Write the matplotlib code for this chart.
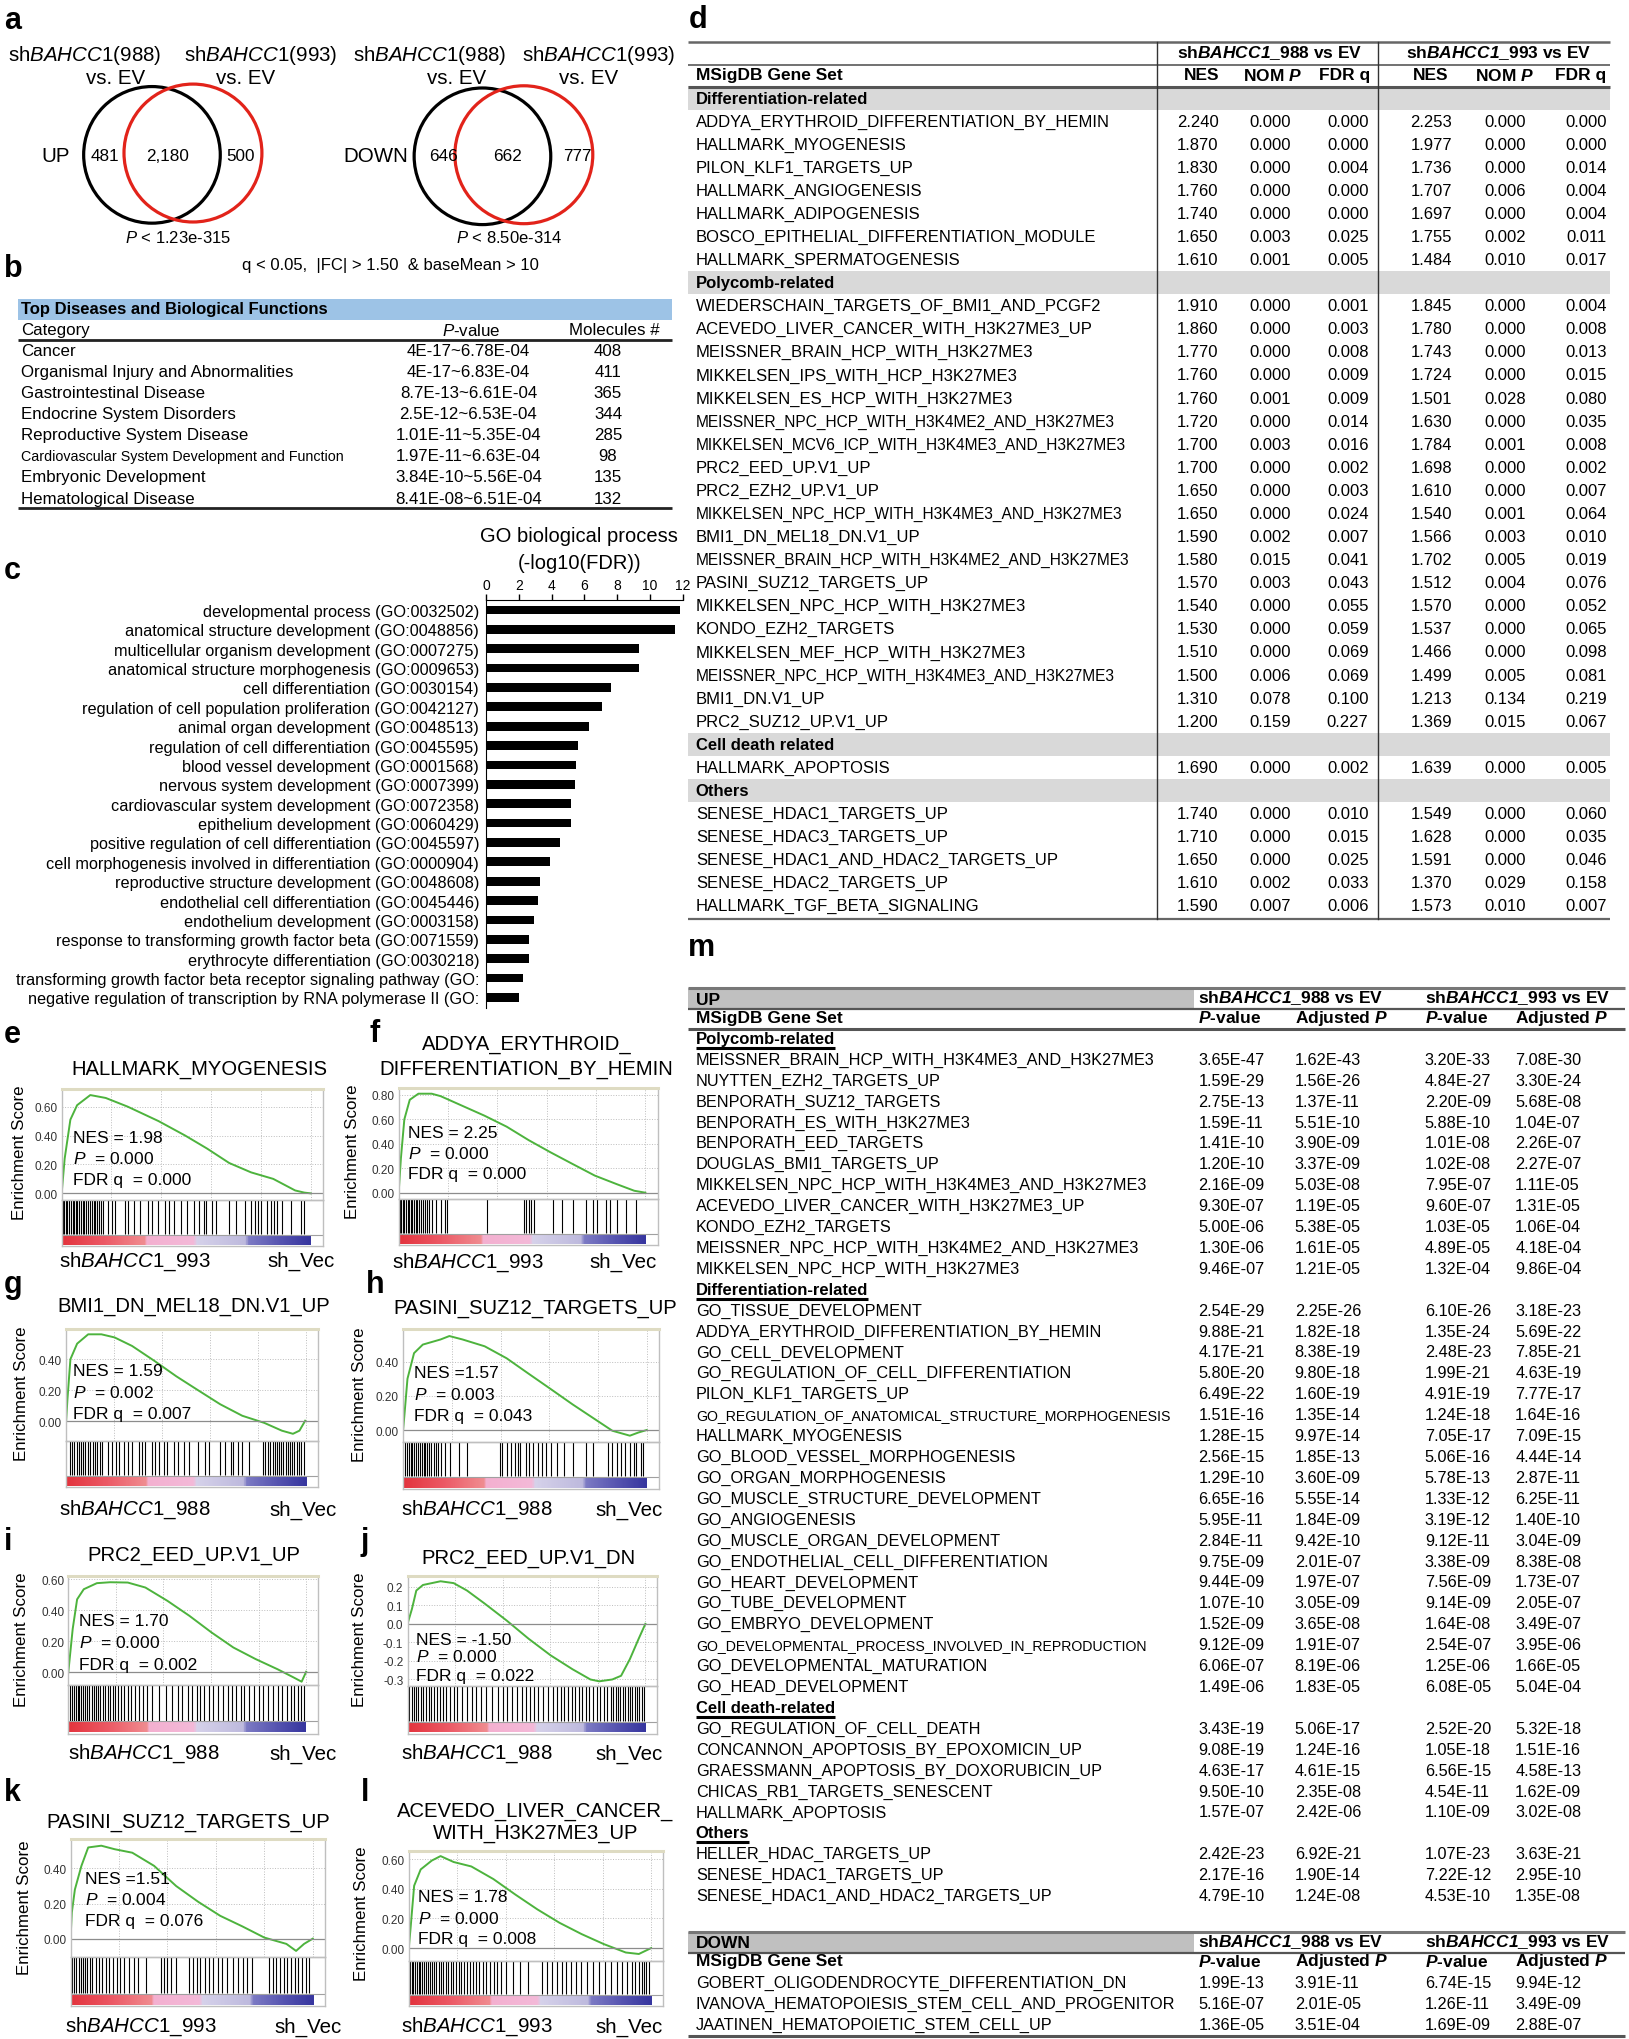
import numpy as np
import matplotlib
matplotlib.use('Agg')
import matplotlib.pyplot as plt
from matplotlib.patches import Circle, Rectangle
from matplotlib.colors import LinearSegmentedColormap

plt.rcParams['font.family'] = ['Liberation Sans', 'DejaVu Sans']
plt.rcParams['mathtext.fontset'] = 'custom'
plt.rcParams['mathtext.rm'] = 'Liberation Sans'
plt.rcParams['mathtext.it'] = 'Liberation Sans:italic'
plt.rcParams['mathtext.bf'] = 'Liberation Sans:bold'
if 'mathtext.bfit' in plt.rcParams:
    plt.rcParams['mathtext.bfit'] = 'Liberation Sans:bold:italic'
    BFIT = r'\mathbfit'
else:
    BFIT = r'\mathbf'

# ---------------- data ----------------
# a: venn counts (only 988, overlap, only 993)
venn_up = [481, 2180, 500]
venn_down = [646, 662, 777]
venn_p = ['1.23e-315', '8.50e-314']

# b: IPA table
ipa_cat = ['Cancer', 'Organismal Injury and Abnormalities', 'Gastrointestinal Disease',
           'Endocrine System Disorders', 'Reproductive System Disease',
           'Cardiovascular System Development and Function', 'Embryonic Development',
           'Hematological Disease']
ipa_p = ['4E-17~6.78E-04', '4E-17~6.83E-04', '8.7E-13~6.61E-04', '2.5E-12~6.53E-04',
         '1.01E-11~5.35E-04', '1.97E-11~6.63E-04', '3.84E-10~5.56E-04', '8.41E-08~6.51E-04']
ipa_mol = [408, 411, 365, 344, 285, 98, 135, 132]

# c: GO biological process
go_terms = ['developmental process (GO:0032502)', 'anatomical structure development (GO:0048856)',
            'multicellular organism development (GO:0007275)', 'anatomical structure morphogenesis (GO:0009653)',
            'cell differentiation (GO:0030154)', 'regulation of cell population proliferation (GO:0042127)',
            'animal organ development (GO:0048513)', 'regulation of cell differentiation (GO:0045595)',
            'blood vessel development (GO:0001568)', 'nervous system development (GO:0007399)',
            'cardiovascular system development (GO:0072358)', 'epithelium development (GO:0060429)',
            'positive regulation of cell differentiation (GO:0045597)',
            'cell morphogenesis involved in differentiation (GO:0000904)',
            'reproductive structure development (GO:0048608)', 'endothelial cell differentiation (GO:0045446)',
            'endothelium development (GO:0003158)', 'response to transforming growth factor beta (GO:0071559)',
            'erythrocyte differentiation (GO:0030218)',
            'transforming growth factor beta receptor signaling pathway (GO:',
            'negative regulation of transcription by RNA polymerase II (GO:']
go_values = [11.8, 11.5, 9.3, 9.3, 7.65, 7.1, 6.3, 5.6, 5.5, 5.4, 5.2, 5.2, 4.5, 3.9,
             3.3, 3.15, 2.9, 2.65, 2.6, 2.25, 2.0]

# d: GSEA summary (NES, NOM P, FDR q for 988 then 993)
d_groups = ['Differentiation-related', 'Polycomb-related', 'Cell death related', 'Others']
d_diff_sets = ['ADDYA_ERYTHROID_DIFFERENTIATION_BY_HEMIN', 'HALLMARK_MYOGENESIS', 'PILON_KLF1_TARGETS_UP',
               'HALLMARK_ANGIOGENESIS', 'HALLMARK_ADIPOGENESIS', 'BOSCO_EPITHELIAL_DIFFERENTIATION_MODULE',
               'HALLMARK_SPERMATOGENESIS']
d_diff_vals = [[2.240, 0.000, 0.000, 2.253, 0.000, 0.000], [1.870, 0.000, 0.000, 1.977, 0.000, 0.000],
               [1.830, 0.000, 0.004, 1.736, 0.000, 0.014], [1.760, 0.000, 0.000, 1.707, 0.006, 0.004],
               [1.740, 0.000, 0.000, 1.697, 0.000, 0.004], [1.650, 0.003, 0.025, 1.755, 0.002, 0.011],
               [1.610, 0.001, 0.005, 1.484, 0.010, 0.017]]
d_pc_sets = ['WIEDERSCHAIN_TARGETS_OF_BMI1_AND_PCGF2', 'ACEVEDO_LIVER_CANCER_WITH_H3K27ME3_UP',
             'MEISSNER_BRAIN_HCP_WITH_H3K27ME3', 'MIKKELSEN_IPS_WITH_HCP_H3K27ME3',
             'MIKKELSEN_ES_HCP_WITH_H3K27ME3', 'MEISSNER_NPC_HCP_WITH_H3K4ME2_AND_H3K27ME3',
             'MIKKELSEN_MCV6_ICP_WITH_H3K4ME3_AND_H3K27ME3', 'PRC2_EED_UP.V1_UP', 'PRC2_EZH2_UP.V1_UP',
             'MIKKELSEN_NPC_HCP_WITH_H3K4ME3_AND_H3K27ME3', 'BMI1_DN_MEL18_DN.V1_UP',
             'MEISSNER_BRAIN_HCP_WITH_H3K4ME2_AND_H3K27ME3', 'PASINI_SUZ12_TARGETS_UP',
             'MIKKELSEN_NPC_HCP_WITH_H3K27ME3', 'KONDO_EZH2_TARGETS', 'MIKKELSEN_MEF_HCP_WITH_H3K27ME3',
             'MEISSNER_NPC_HCP_WITH_H3K4ME3_AND_H3K27ME3', 'BMI1_DN.V1_UP', 'PRC2_SUZ12_UP.V1_UP']
d_pc_vals = [[1.910, 0.000, 0.001, 1.845, 0.000, 0.004], [1.860, 0.000, 0.003, 1.780, 0.000, 0.008],
             [1.770, 0.000, 0.008, 1.743, 0.000, 0.013], [1.760, 0.000, 0.009, 1.724, 0.000, 0.015],
             [1.760, 0.001, 0.009, 1.501, 0.028, 0.080], [1.720, 0.000, 0.014, 1.630, 0.000, 0.035],
             [1.700, 0.003, 0.016, 1.784, 0.001, 0.008], [1.700, 0.000, 0.002, 1.698, 0.000, 0.002],
             [1.650, 0.000, 0.003, 1.610, 0.000, 0.007], [1.650, 0.000, 0.024, 1.540, 0.001, 0.064],
             [1.590, 0.002, 0.007, 1.566, 0.003, 0.010], [1.580, 0.015, 0.041, 1.702, 0.005, 0.019],
             [1.570, 0.003, 0.043, 1.512, 0.004, 0.076], [1.540, 0.000, 0.055, 1.570, 0.000, 0.052],
             [1.530, 0.000, 0.059, 1.537, 0.000, 0.065], [1.510, 0.000, 0.069, 1.466, 0.000, 0.098],
             [1.500, 0.006, 0.069, 1.499, 0.005, 0.081], [1.310, 0.078, 0.100, 1.213, 0.134, 0.219],
             [1.200, 0.159, 0.227, 1.369, 0.015, 0.067]]
d_death_sets = ['HALLMARK_APOPTOSIS']
d_death_vals = [[1.690, 0.000, 0.002, 1.639, 0.000, 0.005]]
d_other_sets = ['SENESE_HDAC1_TARGETS_UP', 'SENESE_HDAC3_TARGETS_UP', 'SENESE_HDAC1_AND_HDAC2_TARGETS_UP',
                'SENESE_HDAC2_TARGETS_UP', 'HALLMARK_TGF_BETA_SIGNALING']
d_other_vals = [[1.740, 0.000, 0.010, 1.549, 0.000, 0.060], [1.710, 0.000, 0.015, 1.628, 0.000, 0.035],
                [1.650, 0.000, 0.025, 1.591, 0.000, 0.046], [1.610, 0.002, 0.033, 1.370, 0.029, 0.158],
                [1.590, 0.007, 0.006, 1.573, 0.010, 0.007]]

# m: enrichment P-values (988 P, adj P, 993 P, adj P)
m_groups = ['Polycomb-related', 'Differentiation-related', 'Cell death-related', 'Others']
m_pc_sets = ['MEISSNER_BRAIN_HCP_WITH_H3K4ME3_AND_H3K27ME3', 'NUYTTEN_EZH2_TARGETS_UP',
             'BENPORATH_SUZ12_TARGETS', 'BENPORATH_ES_WITH_H3K27ME3', 'BENPORATH_EED_TARGETS',
             'DOUGLAS_BMI1_TARGETS_UP', 'MIKKELSEN_NPC_HCP_WITH_H3K4ME3_AND_H3K27ME3',
             'ACEVEDO_LIVER_CANCER_WITH_H3K27ME3_UP', 'KONDO_EZH2_TARGETS',
             'MEISSNER_NPC_HCP_WITH_H3K4ME2_AND_H3K27ME3', 'MIKKELSEN_NPC_HCP_WITH_H3K27ME3']
m_pc_vals = [['3.65E-47', '1.62E-43', '3.20E-33', '7.08E-30'], ['1.59E-29', '1.56E-26', '4.84E-27', '3.30E-24'],
             ['2.75E-13', '1.37E-11', '2.20E-09', '5.68E-08'], ['1.59E-11', '5.51E-10', '5.88E-10', '1.04E-07'],
             ['1.41E-10', '3.90E-09', '1.01E-08', '2.26E-07'], ['1.20E-10', '3.37E-09', '1.02E-08', '2.27E-07'],
             ['2.16E-09', '5.03E-08', '7.95E-07', '1.11E-05'], ['9.30E-07', '1.19E-05', '9.60E-07', '1.31E-05'],
             ['5.00E-06', '5.38E-05', '1.03E-05', '1.06E-04'], ['1.30E-06', '1.61E-05', '4.89E-05', '4.18E-04'],
             ['9.46E-07', '1.21E-05', '1.32E-04', '9.86E-04']]
m_diff_sets = ['GO_TISSUE_DEVELOPMENT', 'ADDYA_ERYTHROID_DIFFERENTIATION_BY_HEMIN', 'GO_CELL_DEVELOPMENT',
               'GO_REGULATION_OF_CELL_DIFFERENTIATION', 'PILON_KLF1_TARGETS_UP',
               'GO_REGULATION_OF_ANATOMICAL_STRUCTURE_MORPHOGENESIS', 'HALLMARK_MYOGENESIS',
               'GO_BLOOD_VESSEL_MORPHOGENESIS', 'GO_ORGAN_MORPHOGENESIS', 'GO_MUSCLE_STRUCTURE_DEVELOPMENT',
               'GO_ANGIOGENESIS', 'GO_MUSCLE_ORGAN_DEVELOPMENT', 'GO_ENDOTHELIAL_CELL_DIFFERENTIATION',
               'GO_HEART_DEVELOPMENT', 'GO_TUBE_DEVELOPMENT', 'GO_EMBRYO_DEVELOPMENT',
               'GO_DEVELOPMENTAL_PROCESS_INVOLVED_IN_REPRODUCTION', 'GO_DEVELOPMENTAL_MATURATION',
               'GO_HEAD_DEVELOPMENT']
m_diff_vals = [['2.54E-29', '2.25E-26', '6.10E-26', '3.18E-23'], ['9.88E-21', '1.82E-18', '1.35E-24', '5.69E-22'],
               ['4.17E-21', '8.38E-19', '2.48E-23', '7.85E-21'], ['5.80E-20', '9.80E-18', '1.99E-21', '4.63E-19'],
               ['6.49E-22', '1.60E-19', '4.91E-19', '7.77E-17'], ['1.51E-16', '1.35E-14', '1.24E-18', '1.64E-16'],
               ['1.28E-15', '9.97E-14', '7.05E-17', '7.09E-15'], ['2.56E-15', '1.85E-13', '5.06E-16', '4.44E-14'],
               ['1.29E-10', '3.60E-09', '5.78E-13', '2.87E-11'], ['6.65E-16', '5.55E-14', '1.33E-12', '6.25E-11'],
               ['5.95E-11', '1.84E-09', '3.19E-12', '1.40E-10'], ['2.84E-11', '9.42E-10', '9.12E-11', '3.04E-09'],
               ['9.75E-09', '2.01E-07', '3.38E-09', '8.38E-08'], ['9.44E-09', '1.97E-07', '7.56E-09', '1.73E-07'],
               ['1.07E-10', '3.05E-09', '9.14E-09', '2.05E-07'], ['1.52E-09', '3.65E-08', '1.64E-08', '3.49E-07'],
               ['9.12E-09', '1.91E-07', '2.54E-07', '3.95E-06'], ['6.06E-07', '8.19E-06', '1.25E-06', '1.66E-05'],
               ['1.49E-06', '1.83E-05', '6.08E-05', '5.04E-04']]
m_death_sets = ['GO_REGULATION_OF_CELL_DEATH', 'CONCANNON_APOPTOSIS_BY_EPOXOMICIN_UP',
                'GRAESSMANN_APOPTOSIS_BY_DOXORUBICIN_UP', 'CHICAS_RB1_TARGETS_SENESCENT', 'HALLMARK_APOPTOSIS']
m_death_vals = [['3.43E-19', '5.06E-17', '2.52E-20', '5.32E-18'], ['9.08E-19', '1.24E-16', '1.05E-18', '1.51E-16'],
                ['4.63E-17', '4.61E-15', '6.56E-15', '4.58E-13'], ['9.50E-10', '2.35E-08', '4.54E-11', '1.62E-09'],
                ['1.57E-07', '2.42E-06', '1.10E-09', '3.02E-08']]
m_other_sets = ['HELLER_HDAC_TARGETS_UP', 'SENESE_HDAC1_TARGETS_UP', 'SENESE_HDAC1_AND_HDAC2_TARGETS_UP']
m_other_vals = [['2.42E-23', '6.92E-21', '1.07E-23', '3.63E-21'], ['2.17E-16', '1.90E-14', '7.22E-12', '2.95E-10'],
                ['4.79E-10', '1.24E-08', '4.53E-10', '1.35E-08']]
m_down_sets = ['GOBERT_OLIGODENDROCYTE_DIFFERENTIATION_DN', 'IVANOVA_HEMATOPOIESIS_STEM_CELL_AND_PROGENITOR',
               'JAATINEN_HEMATOPOIETIC_STEM_CELL_UP']
m_down_vals = [['1.99E-13', '3.91E-11', '6.74E-15', '9.94E-12'], ['5.16E-07', '2.01E-05', '1.26E-11', '3.49E-09'],
               ['1.36E-05', '3.51E-04', '1.69E-09', '2.88E-07']]

# e-l: GSEA running enrichment score (rank in % of list) and hit positions
gsea_titles = [['HALLMARK_MYOGENESIS'], ['ADDYA_ERYTHROID_', 'DIFFERENTIATION_BY_HEMIN'],
               ['BMI1_DN_MEL18_DN.V1_UP'], ['PASINI_SUZ12_TARGETS_UP'], ['PRC2_EED_UP.V1_UP'],
               ['PRC2_EED_UP.V1_DN'], ['PASINI_SUZ12_TARGETS_UP'], ['ACEVEDO_LIVER_CANCER_', 'WITH_H3K27ME3_UP']]
gsea_nes = ['= 1.98', '= 2.25', '= 1.59', '=1.57', '= 1.70', '= -1.50', '=1.51', '= 1.78']
gsea_p = ['0.000', '0.000', '0.002', '0.003', '0.000', '0.000', '0.004', '0.000']
gsea_fdr = ['0.000', '0.000', '0.007', '0.043', '0.002', '0.022', '0.076', '0.008']
gsea_shrna = ['993', '993', '988', '988', '988', '988', '993', '993']

e_rank = [0, 1.2, 3.5, 6.2, 11.5, 17.7, 26.5, 38.9, 49.6, 58.4, 67.3, 76.1, 85.0, 93.8, 97.5, 100]
e_es = [0, 0.24, 0.51, 0.61, 0.68, 0.66, 0.60, 0.50, 0.40, 0.31, 0.21, 0.145, 0.10, 0.02, 0.005, 0.0]
e_hits = [0.5, 1, 1.6, 2.2, 3, 3.6, 4.4, 5, 5.6, 6.3, 7, 7.7, 8.4, 9, 9.8, 10.5, 11.3, 12, 12.8, 13.5,
          14.3, 15, 15.8, 16.5, 18.6, 20.4, 21.6, 25.3, 26.5, 29.2, 31.5, 34.5, 36.3, 38.9, 41.6, 43, 45.1,
          47.8, 50.4, 53.1, 55.2, 57, 58, 60.2, 61.9, 67.3, 69.9, 73.5, 76.1, 77.5, 78.8, 80, 82.3, 84.1,
          85.3, 86.4, 88.5, 92, 96, 97.3]
f_rank = [0, 0.9, 2.3, 4.5, 8, 13.4, 17, 25.9, 34.8, 43.8, 52.7, 61.6, 70.5, 79.5, 88.4, 95.5, 100]
f_es = [0, 0.28, 0.60, 0.76, 0.81, 0.81, 0.79, 0.71, 0.63, 0.54, 0.43, 0.33, 0.235, 0.14, 0.07, 0.016, 0]
f_hits = [0.5, 1.1, 1.7, 2.3, 2.9, 3.6, 4.2, 4.8, 5.5, 6.2, 6.9, 7.6, 8.3, 9, 9.8, 10.5, 11.5, 12.5,
          13.5, 15.2, 17, 18.8, 19.6, 35.7, 50.9, 51.8, 52.7, 53.6, 54.8, 62.5, 66.1, 70.5, 75.9, 78.6,
          80.4, 83.9, 85.7, 88.4, 92, 96.4]
g_rank = [0, 0.55, 1.8, 4.6, 9.2, 14.7, 20.2, 27.5, 36.7, 45.9, 55.0, 64.2, 73.4, 82.6, 89.9, 94.5, 97.2, 99.6]
g_es = [0, 0.14, 0.40, 0.50, 0.56, 0.56, 0.54, 0.485, 0.39, 0.29, 0.20, 0.11, 0.036, -0.01, -0.06, -0.08,
        -0.06, 0.004]
g_hits = [1.8, 2.6, 3.5, 4.4, 5.3, 6.2, 7.1, 8, 9, 10, 11, 12, 13, 14, 15, 17.4, 19.3, 20.6, 22, 24.2,
          25.7, 27.5, 30.3, 31.6, 33, 35.8, 37.1, 38.5, 40.7, 42.2, 44.9, 46.8, 49.2, 51.4, 55, 57.8, 59.6,
          64.2, 66.4, 68.8, 69.7, 71.6, 73.4, 76.1, 82.2, 83, 84, 85, 86, 87, 88, 88.8, 89.7, 90.5, 91.4,
          92.3, 93.2, 94, 95, 96, 97, 98, 98.9]
h_rank = [0, 0.5, 1.8, 4.5, 8.1, 15.4, 19, 24.4, 33.5, 42.5, 51.5, 60.6, 69.6, 78.7, 85.9, 93.1, 96.7, 100]
h_es = [0, 0.08, 0.30, 0.45, 0.50, 0.53, 0.55, 0.53, 0.49, 0.42, 0.33, 0.24, 0.15, 0.064, -0.004, -0.033,
        -0.014, 0]
h_hits = [0.9, 1.6, 2.4, 3.1, 3.8, 4.6, 5.4, 6.1, 6.9, 7.6, 8.4, 9.2, 10, 10.8, 11.6, 12.5, 13.4, 14.5,
          15.6, 17.4, 19.3, 22.8, 26.4, 39.8, 40.7, 42.5, 44.3, 45.8, 47, 47.9, 50.6, 51.5, 53.3, 55.2, 57,
          58.8, 60.6, 63.3, 66, 69.6, 75, 77.8, 84.1, 85.9, 87.7, 89.5, 91.3, 93.1, 95, 95.8, 97.6, 98.5]
i_rank = [0, 0.56, 1.85, 3.7, 6.5, 12, 17.6, 25, 32.4, 41.7, 50.9, 60.2, 69.4, 78.7, 88, 94.4, 98.1, 100]
i_es = [0, 0.086, 0.28, 0.47, 0.535, 0.574, 0.58, 0.578, 0.546, 0.46, 0.364, 0.257, 0.16, 0.086, 0.02,
        -0.03, -0.06, 0.004]
i_hits = [0.9, 1.7, 2.4, 3.1, 3.9, 4.6, 5.4, 6.3, 7.2, 8, 8.9, 9.8, 10.7, 11.6, 12.6, 13.5, 14.5, 15.5,
          16.5, 17.6, 18.7, 19.8, 21, 22.2, 23.5, 25, 26.5, 28, 29.6, 31.3, 33, 35, 38, 41, 43.5, 46, 48,
          50.5, 52, 54, 55.5, 57, 59, 61, 63, 65, 67, 69, 70.5, 72.5, 74, 76, 78, 80, 82, 84, 86, 88, 90,
          92, 93.5, 95, 96.5, 98, 99]
j_rank = [0, 1.85, 3.7, 6.5, 13.9, 19.4, 25, 32.4, 41.7, 50.9, 60.2, 69.4, 76.9, 80.6, 86.1, 89.8, 93.5,
          97.2, 100]
j_es = [0, 0.08, 0.18, 0.21, 0.23, 0.22, 0.18, 0.11, 0.018, -0.08, -0.17, -0.245, -0.30, -0.31, -0.30,
        -0.28, -0.19, -0.08, 0]
j_hits = [0.8, 1.8, 2.8, 3.6, 4.6, 5.6, 6.6, 7.8, 9, 10, 11.2, 12.5, 13.6, 15, 16.3, 18, 19.4, 21, 23,
          25, 27, 29, 31, 33, 35.5, 38, 40, 42, 44, 46, 48, 50, 51.5, 53, 55, 57, 59, 61, 63, 64.5, 66,
          67.5, 69, 70.5, 72, 73.5, 75, 76.5, 78, 79.5, 81, 82.5, 84, 85.5, 86.5, 87.5, 88.5, 89.5, 90.5,
          91.5, 92.5, 93.5, 94.5, 95.5, 96.5, 97.5, 98.5, 99.3]
k_rank = [0, 0.55, 1.8, 4.5, 7.3, 12.7, 18.2, 25.5, 34.5, 43.6, 52.7, 61.8, 70.9, 80, 89.1, 93.1, 96.4, 100]
k_es = [0, 0.15, 0.28, 0.415, 0.52, 0.53, 0.51, 0.49, 0.415, 0.30, 0.21, 0.13, 0.07, 0.006, -0.03, -0.07,
        -0.03, 0]
k_hits = [0.6, 1.5, 2.4, 3.3, 4.2, 5, 6, 7, 8, 9, 10.5, 11.8, 13, 14.5, 16, 17.5, 19, 20.5, 22, 24, 26,
          28, 31, 37.5, 38.5, 40, 41.5, 43.5, 49, 50.5, 52, 53.5, 55.5, 57, 59, 61, 62.5, 64.5, 67, 69, 71,
          73, 75, 82, 83.5, 85, 86.5, 88, 89.5, 91, 92.5, 94, 95.5, 97, 98.5]
l_rank = [0, 0.7, 2.2, 4.9, 9.5, 13.1, 18.5, 25.8, 34.9, 44, 53.1, 62.2, 71.3, 80.4, 89.5, 94.9, 100]
l_es = [0, 0.13, 0.42, 0.53, 0.59, 0.62, 0.58, 0.55, 0.465, 0.36, 0.26, 0.17, 0.094, 0.027, -0.03, -0.04, 0]
l_hits = [0.5, 1.2, 1.9, 2.6, 3.3, 4, 4.8, 5.6, 6.4, 7.2, 8, 8.8, 9.6, 10.5, 11.4, 12.3, 13.2, 14.2, 15.2,
          16.2, 17.2, 18.3, 19.4, 20.5, 21.6, 22.8, 24, 25.2, 26.5, 27.8, 29, 30.5, 32, 33.5, 35, 36.5, 38,
          40, 43, 46, 49, 55, 57, 59, 61, 63, 65, 67, 69, 71, 73.5, 76, 78.5, 81, 83.5, 86, 88, 90, 92,
          93.5, 95, 96, 97, 98, 99]

# ---------------- layout ----------------
W, H = 1252.0, 1568.0
fig = plt.figure(figsize=(16.29, 20.40), dpi=100)
ax0 = fig.add_axes([0, 0, 1, 1])
ax0.set_xlim(0, W)
ax0.set_ylim(H, 0)
ax0.axis('off')


def T(x, y, s, size, ha='left', weight='normal', color='black', rot=0):
    return ax0.text(x, y, s, fontsize=size, ha=ha, va='center', fontweight=weight, color=color,
                    rotation=rot)


def FT(x, y, s, size, ha='left'):
    fig.text(x / W, 1 - y / H, s, fontsize=size, ha=ha, va='center', zorder=10)


def HL(x0, x1, y, lw=1.0, color='#555555'):
    ax0.plot([x0, x1], [y, y], color=color, lw=lw, solid_capstyle='butt')


def sub(x0, y0, x1, y1):
    a = fig.add_axes([x0 / W, 1 - y1 / H, (x1 - x0) / W, (y1 - y0) / H])
    a.set_facecolor('none')
    return a


def panel_label(x, y, s):
    T(x, y, s, 22, weight='bold')


def it(s):
    return r'$\mathit{' + s + '}$'


def bfit(s):
    return '$' + BFIT + '{' + s + '}$'


# ---- a: venn ----
panel_label(3, 16, 'a')
for cx, tag in [(65, '988'), (200, '993'), (330, '988'), (460, '993')]:
    T(cx, 42.3, 'sh' + it('BAHCC1') + '(' + tag + ')', 14.8, ha='center')
for cx in [89, 189, 351, 452]:
    T(cx, 60.2, 'vs. EV', 14.8, ha='center')
for (bx, by), (rx, ry) in [((116.8, 119.8), (148.3, 118.4)), ((370.8, 120.9), (402.6, 119.7))]:
    ax0.add_patch(Circle((bx, by), 52.5, fill=False, ec='black', lw=2.3))
    ax0.add_patch(Circle((rx, ry), 53, fill=False, ec='#e2231a', lw=2.3))
T(43, 120.4, 'UP', 14.8, ha='center')
T(288.8, 120.4, 'DOWN', 14.8, ha='center')
for xs, vals in [([80.4, 128.7, 184.5], venn_up), ([340.5, 390, 443.5], venn_down)]:
    for x, v in zip(xs, vals):
        T(x, 120.4, f'{v:,}', 12.3, ha='center')
T(137, 182.7, it('P') + ' < ' + venn_p[0], 12, ha='center')
T(391, 182.7, it('P') + ' < ' + venn_p[1], 12, ha='center')
T(300, 203.7, 'q < 0.05,  |FC| > 1.50  & baseMean > 10', 12, ha='center')

# ---- b: IPA table ----
panel_label(3, 207, 'b')
ax0.add_patch(Rectangle((13.5, 230.6), 503, 15.9, color='#9dc3e6', lw=0))
T(16.2, 238, 'Top Diseases and Biological Functions', 12, weight='bold')
T(16.2, 254.2, 'Category', 12.2)
T(362.3, 254.2, it('P') + '-value', 12.2, ha='center')
T(472.4, 254.2, 'Molecules #', 12.2, ha='center')
HL(13.5, 516.4, 261.9, lw=2, color='#222222')
for i, (c, p, m) in enumerate(zip(ipa_cat, ipa_p, ipa_mol)):
    y = 269.8 + 16.26 * i
    T(16.2, y, c, 10.3 if len(c) > 40 else 12.2)
    T(360, y, p, 12.2, ha='center')
    T(467.3, y, str(m), 12.2, ha='center')
HL(13.5, 516.4, 391.5, lw=2, color='#222222')

# ---- c: GO bar chart ----
panel_label(3, 439, 'c')
T(445.3, 412.5, 'GO biological process', 14.5, ha='center')
T(445.3, 433, '(-log10(FDR))', 14.5, ha='center')
axc = sub(373.5, 462, 524.8, 775.5)
ypos = np.arange(len(go_terms))
axc.barh(ypos, go_values, height=0.45, color='black')
axc.set_xlim(0, 12)
axc.set_ylim(20.54, -0.51)
axc.xaxis.tick_top()
axc.set_xticks(range(0, 13, 2))
axc.tick_params(axis='x', labelsize=10, length=4, width=1, pad=1.5)
axc.set_yticks(ypos)
axc.set_yticklabels(go_terms, fontsize=11.7)
axc.tick_params(axis='y', length=0, pad=5)
for s in ['right', 'bottom']:
    axc.spines[s].set_visible(False)

# ---- d: GSEA summary table ----
panel_label(529, 15.5, 'd')
DL, DR = 528.8, 1237.3
HL(DL, DR, 32.8, lw=1.8, color='#666666')
T(975.6, 41, 'sh' + bfit('BAHCC1') + '_988 vs EV', 12.5, ha='center', weight='bold')
T(1152, 41, 'sh' + bfit('BAHCC1') + '_993 vs EV', 12.5, ha='center', weight='bold')
HL(DL, DR, 50.5, lw=1.3, color='#666666')
T(534.8, 58.4, 'MSigDB Gene Set', 12.5, weight='bold')
for x, s in zip([923.3, 977.9, 1033.5, 1099.3, 1156, 1215],
                ['NES', 'NOM ' + bfit('P'), 'FDR q'] * 2):
    T(x, 58.4, s, 12.5, ha='center', weight='bold')
HL(DL, DR, 67.9, lw=2.2, color='#555555')
num_x = [920.6, 976.1, 1035.8, 1100.2, 1157, 1219.2]
y = 76.1
step = 17.74
for gname, sets, vals in zip(d_groups, [d_diff_sets, d_pc_sets, d_death_sets, d_other_sets],
                             [d_diff_vals, d_pc_vals, d_death_vals, d_other_vals]):
    ax0.add_patch(Rectangle((DL, y - 8.9), DR - DL, 17.8, color='#d9d9d9', lw=0))
    T(534.8, y, gname, 12, weight='bold')
    y += step
    for name, v in zip(sets, vals):
        T(534.8, y, name, 11.2 if len(name) > 40 else 12)
        for x, val in zip(num_x, v):
            T(x, y, f'{val:.3f}', 12, ha='center')
        y += step
HL(DL, DR, 707, lw=1.6, color='#666666')
for x in [889, 1059]:
    ax0.plot([x, x], [32.8, 707], color='#333333', lw=1.0)

# ---- m: enrichment P-value tables ----
panel_label(529, 729, 'm')
ML, MR = 528.8, 1248.9
mcol = [921, 995.1, 1095.1, 1164.5]


def m_header(ytop, tag, second_line):
    HL(ML, MR, ytop, lw=2.2, color='#777777')
    ax0.add_patch(Rectangle((ML, ytop), 917.8 - ML, 16.1, color='#c0c0c0', lw=0))
    T(534.8, ytop + 8.6, tag, 12.5, weight='bold')
    T(mcol[0], ytop + 7, 'sh' + bfit('BAHCC1') + '_988 vs EV', 12.5, weight='bold')
    T(mcol[2], ytop + 7, 'sh' + bfit('BAHCC1') + '_993 vs EV', 12.5, weight='bold')
    HL(ML, MR, ytop + 16.1, lw=1.6, color='#555555')
    T(534.8, ytop + 22.5, 'MSigDB Gene Set', 12.5, weight='bold')
    for x, s in zip(mcol, [bfit('P') + '-value', 'Adjusted ' + bfit('P')] * 2):
        T(x, ytop + 22.5, s, 12.5, weight='bold')
    if second_line:
        HL(ML, MR, ytop + 31.5, lw=2.2, color='#555555')


def m_row(y, name, vals):
    T(534.8, y, name, 10.2 if len(name) >= 48 else 11.7)
    for x, v in zip(mcol, vals):
        T(x, y, v, 11.7)


m_header(760.2, 'UP', True)
renderer = fig.canvas.get_renderer()
y = 798.9
mstep = 16.07
for gname, sets, vals in zip(m_groups, [m_pc_sets, m_diff_sets, m_death_sets, m_other_sets],
                             [m_pc_vals, m_diff_vals, m_death_vals, m_other_vals]):
    t = T(534.8, y, gname, 12, weight='bold')
    bb = t.get_window_extent(renderer=renderer)
    x1 = bb.x1 / fig.bbox.width * W
    HL(534.8, x1, y + 7.3, lw=2.2, color='black')
    y += mstep
    for name, v in zip(sets, vals):
        m_row(y, name, v)
        y += mstep

m_header(1485.5, 'DOWN', False)
for i, (name, v) in enumerate(zip(m_down_sets, m_down_vals)):
    m_row(1524.5 + 16.0 * i, name, v)
HL(ML, MR, 1565.5, lw=2.2, color='#555555')

# ---- e-l: GSEA enrichment plots ----
heat_cmap = LinearSegmentedColormap.from_list('heat', [
    (0.0, '#e3343e'), (0.17, '#ec5a66'), (0.33, '#f08c90'), (0.34, '#f4b0d0'), (0.53, '#f3b9d8'),
    (0.54, '#d6d2ea'), (0.74, '#bdb9dd'), (0.75, '#7d7bc4'), (0.88, '#5654b0'), (1.0, '#37369f')])
grad = np.linspace(0, 1, 300)[None, :]

ranks = [e_rank, f_rank, g_rank, h_rank, i_rank, j_rank, k_rank, l_rank]
scores = [e_es, f_es, g_es, h_es, i_es, j_es, k_es, l_es]
hitsets = [e_hits, f_hits, g_hits, h_hits, i_hits, j_hits, k_hits, l_hits]

# box: frame left, 100% rank x, top, ES bottom, panel bottom
boxes = [(47.4, 238.7, 837.8, 923, 958.8), (306.4, 496, 837, 922.4, 958),
         (50.8, 235.3, 1022.3, 1108.2, 1144.1), (309.8, 497, 1022.3, 1109.4, 1145.3),
         (52.5, 235.3, 1211.9, 1296, 1333.4), (313.2, 496, 1211.9, 1296.5, 1333.4),
         (54.2, 240.4, 1414.3, 1504.6, 1543), (314.2, 500.5, 1423.3, 1507.9, 1543)]
ylims = [(-0.045, 0.722), (-0.052, 0.857), (-0.125, 0.594), (-0.072, 0.591),
         (-0.082, 0.622), (-0.334, 0.26), (-0.102, 0.568), (-0.086, 0.656)]
yticks = [[0, .2, .4, .6], [0, .2, .4, .6, .8], [0, .2, .4], [0, .2, .4], [0, .2, .4, .6],
          [-.3, -.2, -.1, 0, .1, .2], [0, .2, .4], [0, .2, .4, .6]]
title_x = [153, 404.6, 149, 411.4, 149, 406.3, 145, 411.4]
title_y = [[822.4], [803.2, 822.4], [1004.4], [1005.7], [1195.3], [1197.8], [1401], [1392.5, 1409.2]]
labels = [('e', 3, 795.6), ('f', 284, 795), ('g', 3, 988), ('h', 281, 988),
          ('i', 3, 1185), ('j', 277, 1185), ('k', 3, 1378), ('l', 277, 1378)]
es_x = [15.2, 270.9, 16.9, 276, 16.9, 276, 18.6, 277.7]
stat_x = [55.9, 313.2, 55.9, 318.3, 61, 320, 65, 321]
stat_y = [874.9, 871, 1054.3, 1055.6, 1246.5, 1260.6, 1444.5, 1458.1]
stat_dy = [[0, 15.9, 32.1], [0, 16, 32], [0, 16.7, 33.3], [0, 16.7, 32.8], [0, 16.7, 33.4],
           [0, 13.4, 28.2], [0, 15.9, 32.5], [0, 16.7, 32.8]]
bot_lab = [(45.7, 257.3, 969.9), (301.4, 504.5, 970.2), (45.7, 259, 1160.7), (308, 509.6, 1160.7),
           (52.5, 259, 1348.2), (308, 509.6, 1348.2), (50, 262.4, 1558), (308, 509.6, 1558)]

for k in range(8):
    L, R, top, esb, bot = boxes[k]
    Rf = L + (R - L) * 1.05
    ax = sub(L, top, Rf, esb)
    ax.plot(ranks[k], scores[k], color='#4db33d', lw=1.4)
    ax.axhline(0, color='#8c8c8c', lw=0.9)
    ax.set_xlim(0, 105)
    ax.set_ylim(*ylims[k])
    ax.set_xticks([20, 40, 60, 80, 100])
    ax.set_xticklabels([])
    ax.set_yticks(yticks[k])
    if k == 5:
        ax.set_yticklabels([f'{v:.1f}' for v in yticks[k]], fontsize=8.5, color='#333333')
    else:
        ax.set_yticklabels([f'{v:.2f}' for v in yticks[k]], fontsize=8.5, color='#333333')
    ax.tick_params(length=0, pad=3)
    ax.grid(True, ls=':', lw=0.7, color='#bdbdbd')
    for s in ax.spines.values():
        s.set_color('#bfbfbf')
        s.set_linewidth(1)
    ax.spines['top'].set_color('#dedbc2')
    ax.spines['top'].set_linewidth(2.2)

    axb = sub(L, esb, Rf, bot)
    axb.vlines(hitsets[k], 0.27, 1, color='black', lw=0.8)
    axb.imshow(grad, cmap=heat_cmap, aspect='auto', extent=(0, 100, 0.03, 0.235))
    axb.axhline(0.255, color='#a0a0a0', lw=0.8)
    axb.set_xlim(0, 105)
    axb.set_ylim(0, 1)
    axb.set_xticks([])
    axb.set_yticks([])
    for s in axb.spines.values():
        s.set_color('#bfbfbf')
        s.set_linewidth(1)

    lab, lx, ly = labels[k]
    panel_label(lx, ly, lab)
    for s, ty in zip(gsea_titles[k], title_y[k]):
        T(title_x[k], ty, s, 14.6, ha='center')
    T(es_x[k], (top + bot) / 2 - 12, 'Enrichment Score', 12.2, ha='center', rot=90)
    sy = stat_y[k]
    FT(stat_x[k], sy + stat_dy[k][0], 'NES ' + gsea_nes[k], 12.5)
    FT(stat_x[k], sy + stat_dy[k][1], it('P') + '  = ' + gsea_p[k], 12.5)
    FT(stat_x[k], sy + stat_dy[k][2], 'FDR q  = ' + gsea_fdr[k], 12.5)
    bl, br, by = bot_lab[k]
    T(bl, by, 'sh' + it('BAHCC1') + '_' + gsea_shrna[k], 14.8)
    T(br, by, 'sh_Vec', 14.8, ha='right')

fig.savefig('out.png', dpi=100)
